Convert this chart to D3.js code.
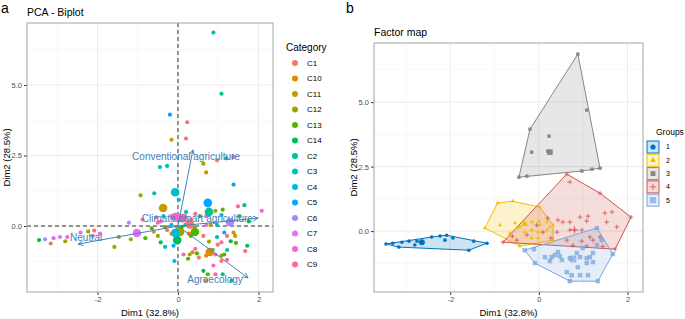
<!DOCTYPE html>
<html>
<head>
<meta charset="utf-8">
<script src="https://cdn.jsdelivr.net/npm/d3@7"></script>
<style>
  body { margin: 0; background: #fff; }
  text { font-family: "Liberation Sans", Arial, sans-serif; }
</style>
</head>
<body>
<div id="chart"></div>
<script>
// categories and their ggplot hue colours
const categories = ["C1","C10","C11","C12","C13","C14","C2","C3","C4","C5","C6","C7","C8","C9"]
const categoryColors = ["#F8766D","#E38900","#C49A00","#99A800","#53B400","#00BC56","#00C094",
                        "#00BFC4","#00B6EB","#06A4FF","#A58AFF","#DF70F8","#FB61D7","#FF66A8"]

// individuals per cluster : [Dim1, Dim2, category]
const group1Ind = [
  [-3.45,-0.50,"C14"],[-3.30,-0.47,"C6"],[-3.16,-0.62,"C1"],[-3.09,-0.43,"C7"],[-2.93,-0.39,"C7"],
  [-2.80,-0.54,"C12"],[-2.75,-0.39,"C8"],[-2.42,-0.23,"C7"],[-2.23,-0.19,"C12"],[-2.12,-0.35,"C6"],
  [-2.08,-0.16,"C1"],[-1.94,-0.27,"C7"],[-1.58,-0.74,"C12"],[-1.47,-0.39,"C12"],[-1.17,-0.47,"C12"]
]
const group2Ind = [
  [-1.22,0.12,"C6"],[-0.93,1.09,"C12"],[-0.59,1.16,"C3"],[0.02,0.93,"C4"],[0.32,0.23,"C1"],
  [0.32,-0.35,"C13"],[-0.43,-0.58,"C14"],[-0.88,0.23,"C1"],[-0.54,0.31,"C9"],[-0.43,0.16,"C8"],
  [-0.36,0.35,"C4"],[-0.16,0.35,"C8"],[0.00,0.39,"C7"],[0.18,0.35,"C1"],[-0.32,-0.04,"C13"],
  [-0.16,0.04,"C4"],[-0.02,-0.04,"C12"],[-0.16,-0.27,"C10"],[-0.02,-0.27,"C3"],[0.18,0.04,"C2"],
  [-0.50,0.12,"C9"],[-0.65,-0.08,"C13"],[0.02,0.23,"C5"],[0.25,0.16,"C6"]
]
const group3Ind = [
  [0.88,6.86,"C3"],[1.08,4.69,"C2"],[-0.20,3.95,"C5"],[0.23,3.68,"C1"],[-0.16,3.06,"C11"],
  [0.20,3.10,"C1"],[1.38,2.44,"C9"],[1.20,2.40,"C2"],[0.97,2.33,"C1"],[-0.27,2.13,"C3"],[-0.45,2.09,"C3"]
]
const group4Ind = [
  [0.63,2.21,"C12"],[0.70,1.90,"C11"],[1.38,1.47,"C5"],[2.08,0.54,"C8"],[1.49,0.70,"C9"],
  [1.65,0.74,"C2"],[1.11,0.58,"C13"],[0.93,0.54,"C12"],[1.08,0.39,"C4"],[1.53,0.35,"C2"],
  [1.76,0.16,"C14"],[0.70,0.35,"C8"],[0.54,0.35,"C13"],[0.43,0.43,"C9"],[0.70,0.04,"C7"],
  [0.81,0.04,"C11"],[0.97,0.04,"C3"],[1.15,-0.23,"C5"],[1.38,-0.23,"C11"],[1.22,-0.35,"C1"],
  [1.44,-0.60,"C13"],[1.72,-0.70,"C14"],[0.97,-0.39,"C2"],[0.63,-0.35,"C1"],[0.77,-0.55,"C12"],
  [1.08,-0.58,"C9"],[0.41,-0.04,"C12"],[0.27,-0.27,"C10"],[0.09,-0.04,"C14"],[-0.05,0.23,"C4"],
  [-0.27,-0.15,"C1"],[-0.60,-0.20,"C1"],[-0.81,-0.43,"C13"],[-0.50,-0.35,"C12"],[0.20,0.50,"C3"]
]
const group5Ind = [
  [1.31,0.12,"C6"],[1.67,-0.89,"C1"],[1.33,-1.94,"C3"],[0.70,-1.94,"C10"],[-0.09,-1.24,"C4"],
  [-0.32,-0.74,"C3"],[-0.11,-0.70,"C5"],[0.14,-1.01,"C9"],[0.25,-1.16,"C13"],[0.29,-1.01,"C12"],
  [0.36,-0.93,"C10"],[0.47,-0.97,"C13"],[0.52,-1.12,"C1"],[0.70,-1.05,"C10"],[0.86,-0.85,"C14"],
  [0.93,-1.01,"C8"],[1.08,-1.05,"C12"],[1.15,-1.01,"C13"],[1.22,-0.85,"C2"],[1.22,-1.20,"C9"],
  [1.08,-1.24,"C1"],[0.88,-1.40,"C9"],[0.74,-1.71,"C13"],[0.93,-1.71,"C9"],[1.11,-1.71,"C2"],
  [0.63,-1.59,"C14"],[0.43,-0.81,"C8"],[1.31,-0.54,"C14"],[1.42,-0.35,"C11"],[0.99,-0.66,"C1"]
]

// category means on the biplot
const categoryMeans = [
  [0.30,0.05,"C1"],[0.79,-0.92,"C10"],[-0.37,0.64,"C11"],[0.05,-0.21,"C12"],[0.42,-0.21,"C13"],
  [-0.02,-0.50,"C14"],[0.77,0.50,"C2"],[-0.07,1.20,"C3"],[-0.07,-0.25,"C4"],[0.74,0.82,"C5"],
  [1.29,0.14,"C6"],[-1.02,-0.25,"C7"],[-0.07,0.32,"C8"],[0.12,0.28,"C9"]
]

// variables (arrows)
const varNames = ["Conventional agriculture","Climate smart agriculture","Neutral","Agroecology"]
const varDim1 = [0.37, 1.99, -2.48, 1.74]
const varDim2 = [2.70, 0.28, -0.64, -1.84]
const varLabelDim1 = [0.20, 0.48, -2.28, 0.92]
const varLabelDim2 = [2.45, 0.28, -0.39, -1.91]

// clusters
const groupNames = ["1","2","3","4","5"]
const groupColors = ["#0073C2","#EFC000","#868686","#CD534C","#7AA6DC"]
const groupShapes = ["circle","triangle","square","plus","squarecross"]
const groupCenters = [[-2.64,-0.43],[-0.32,0.27],[0.25,3.06],[0.80,0.05],[0.77,-1.08]]
const groupInd = [group1Ind, group2Ind, group3Ind, group4Ind, group5Ind]

// axis ticks
const xTicks = [-2, 0, 2]
const xTickLabels = ["-2", "0", "2"]
const xMinor = [-3, -1, 1]
const yTicks = [0, 2.5, 5]
const yTickLabels = ["0.0", "2.5", "5.0"]
const yMinor = [-1.25, 1.25, 3.75, 6.25]

const catColor = d3.scaleOrdinal().domain(categories).range(categoryColors)
const allInd = groupInd.flat()

const svg = d3.select("#chart").append("svg")
  .attr("width", 685).attr("height", 319)

// draws grid, axes and titles of one panel
function drawPanel(x, y, title, letter, letterX) {
  const [x0, x1] = x.range()
  const [y0, y1] = y.range()
  const g = svg.append("g")
  g.selectAll(".minx").data(xMinor).enter().append("line")
    .attr("x1", d => x(d)).attr("x2", d => x(d)).attr("y1", y0).attr("y2", y1)
    .attr("stroke", "#F3F3F3").attr("stroke-width", 0.6)
  g.selectAll(".miny").data(yMinor).enter().append("line")
    .attr("y1", d => y(d)).attr("y2", d => y(d)).attr("x1", x0).attr("x2", x1)
    .attr("stroke", "#F3F3F3").attr("stroke-width", 0.6)
  g.selectAll(".majx").data(xTicks).enter().append("line")
    .attr("x1", d => x(d)).attr("x2", d => x(d)).attr("y1", y0).attr("y2", y1)
    .attr("stroke", "#EBEBEB").attr("stroke-width", 1)
  g.selectAll(".majy").data(yTicks).enter().append("line")
    .attr("y1", d => y(d)).attr("y2", d => y(d)).attr("x1", x0).attr("x2", x1)
    .attr("stroke", "#EBEBEB").attr("stroke-width", 1)

  const ax = g.append("g").attr("transform", `translate(0,${y0})`)
    .call(d3.axisBottom(x).tickValues(xTicks).tickSize(3).tickPadding(2)
      .tickFormat((d, i) => xTickLabels[i]))
  const ay = g.append("g").attr("transform", `translate(${x0},0)`)
    .call(d3.axisLeft(y).tickValues(yTicks).tickSize(3).tickPadding(2)
      .tickFormat((d, i) => yTickLabels[i]))
  for (const a of [ax, ay]) {
    a.select(".domain").remove()
    a.selectAll("line").attr("stroke", "#333")
    a.selectAll("text").attr("fill", "#4D4D4D").style("font-size", "7.5px")
      .style("font-family", "'Liberation Sans', Arial, sans-serif")
  }

  g.append("text").attr("x", (x0 + x1) / 2).attr("y", 316)
    .attr("text-anchor", "middle").style("font-size", "9.5px").text("Dim1 (32.8%)")
  g.append("text")
    .attr("transform", `translate(${x0 - 17},${(y0 + y1) / 2}) rotate(-90)`)
    .attr("text-anchor", "middle").style("font-size", "9.5px").text("Dim2 (28.5%)")
  g.append("text").attr("x", x0).attr("y", y1 - 7)
    .style("font-size", "10.5px").text(title)
  g.append("text").attr("x", letterX).attr("y", 13)
    .style("font-size", "14px").text(letter)
  return g
}

function drawBorder(x, y) {
  const [x0, x1] = x.range()
  const [y0, y1] = y.range()
  svg.append("rect").attr("x", x0).attr("y", y1)
    .attr("width", x1 - x0).attr("height", y0 - y1)
    .attr("fill", "none").attr("stroke", "#A6A6A6").attr("stroke-width", 1)
}

// ---------- a : PCA biplot ----------
const xL = d3.scaleLinear().domain([-3.75, 2.36]).range([27, 273])
const yL = d3.scaleLinear().domain([-2.34, 7.2]).range([292, 23])
drawPanel(xL, yL, "PCA - Biplot", "a", 1)

svg.append("line").attr("x1", xL(0)).attr("x2", xL(0)).attr("y1", 23).attr("y2", 292)
  .attr("stroke", "#333").attr("stroke-width", 1).attr("stroke-dasharray", "4,3")
svg.append("line").attr("y1", yL(0)).attr("y2", yL(0)).attr("x1", 27).attr("x2", 273)
  .attr("stroke", "#333").attr("stroke-width", 1).attr("stroke-dasharray", "4,3")

svg.append("g").selectAll("circle").data(allInd).enter().append("circle")
  .attr("cx", d => xL(d[0])).attr("cy", d => yL(d[1])).attr("r", 2.1)
  .attr("fill", d => catColor(d[2]))
svg.append("g").selectAll("circle").data(categoryMeans).enter().append("circle")
  .attr("cx", d => xL(d[0])).attr("cy", d => yL(d[1])).attr("r", 4.3)
  .attr("fill", d => catColor(d[2]))

function arrowHead(x1, y1, x2, y2, len) {
  const a = Math.atan2(y2 - y1, x2 - x1)
  const p1 = [x2 - len * Math.cos(a - Math.PI / 7), y2 - len * Math.sin(a - Math.PI / 7)]
  const p2 = [x2 - len * Math.cos(a + Math.PI / 7), y2 - len * Math.sin(a + Math.PI / 7)]
  return `M${p1[0]},${p1[1]}L${x2},${y2}L${p2[0]},${p2[1]}`
}
const arrows = svg.append("g")
varNames.forEach((name, i) => {
  const x2 = xL(varDim1[i]), y2 = yL(varDim2[i])
  arrows.append("line").attr("x1", xL(0)).attr("y1", yL(0)).attr("x2", x2).attr("y2", y2)
    .attr("stroke", "#4682B4").attr("stroke-width", 1)
  arrows.append("path").attr("d", arrowHead(xL(0), yL(0), x2, y2, 5.5))
    .attr("fill", "none").attr("stroke", "#4682B4").attr("stroke-width", 1)
  arrows.append("text").attr("x", xL(varLabelDim1[i])).attr("y", yL(varLabelDim2[i]))
    .attr("dy", "0.35em").attr("text-anchor", "middle")
    .attr("fill", "#4682B4").style("font-size", "10px").text(name)
})
drawBorder(xL, yL)

// legend : Category
const legL = svg.append("g")
legL.append("text").attr("x", 286).attr("y", 51).style("font-size", "10px").text("Category")
categories.forEach((c, i) => {
  const cy = 63 + i * 15.5
  legL.append("circle").attr("cx", 295).attr("cy", cy).attr("r", 3).attr("fill", categoryColors[i])
  legL.append("text").attr("x", 307).attr("y", cy).attr("dy", "0.35em")
    .style("font-size", "8px").text(c)
})

// ---------- b : Factor map ----------
const xR = d3.scaleLinear().domain([-3.72, 2.35]).range([374, 643])
const yR = d3.scaleLinear().domain([-2.36, 7.29]).range([292, 43])
drawPanel(xR, yR, "Factor map", "b", 346)

function shapePath(shape, s) {
  if (shape === "circle") return d3.symbol(d3.symbolCircle, Math.PI * s * s)()
  if (shape === "triangle") return d3.symbol(d3.symbolTriangle, 2.2 * s * s)()
  if (shape === "square") return d3.symbol(d3.symbolSquare, 3.4 * s * s)()
  if (shape === "plus") return `M${-s * 1.3},0H${s * 1.3}M0,${-s * 1.3}V${s * 1.3}`
  return `M${-s},${-s}H${s}V${s}H${-s}ZM${-s},${-s}L${s},${s}M${-s},${s}L${s},${-s}`
}
function drawShape(g, shape, color, cx, cy, s) {
  const p = g.append("path").attr("d", shapePath(shape, s))
    .attr("transform", `translate(${cx},${cy})`)
  if (shape === "plus") p.attr("fill", "none").attr("stroke", color).attr("stroke-width", 0.8)
  else if (shape === "squarecross") p.attr("fill", color).attr("fill-opacity", 0.55)
    .attr("stroke", color).attr("stroke-width", 0.6)
  else p.attr("fill", color)
}

const hulls = svg.append("g")
groupInd.forEach((pts, i) => {
  const hull = d3.polygonHull(pts.map(d => [xR(d[0]), yR(d[1])]))
  hulls.append("path").attr("d", "M" + hull.join("L") + "Z")
    .attr("fill", groupColors[i]).attr("fill-opacity", 0.2)
    .attr("stroke", groupColors[i]).attr("stroke-width", 1)
})
const marks = svg.append("g")
groupInd.forEach((pts, i) => {
  pts.forEach(d => drawShape(marks, groupShapes[i], groupColors[i], xR(d[0]), yR(d[1]), 1.8))
  drawShape(marks, groupShapes[i], groupColors[i], xR(groupCenters[i][0]), yR(groupCenters[i][1]), 3)
})
drawBorder(xR, yR)

// legend : Groups
const legR = svg.append("g")
legR.append("text").attr("x", 656).attr("y", 135).style("font-size", "8.5px").text("Groups")
groupNames.forEach((n, i) => {
  const cy = 147 + i * 13.3
  legR.append("rect").attr("x", 647).attr("y", cy - 6).attr("width", 12).attr("height", 12)
    .attr("fill", groupColors[i]).attr("fill-opacity", 0.2)
    .attr("stroke", groupColors[i]).attr("stroke-width", 1)
  drawShape(legR, groupShapes[i], groupColors[i], 653, cy, 2.6)
  legR.append("text").attr("x", 666).attr("y", cy).attr("dy", "0.35em")
    .style("font-size", "7px").text(n)
})
</script>
</body>
</html>
